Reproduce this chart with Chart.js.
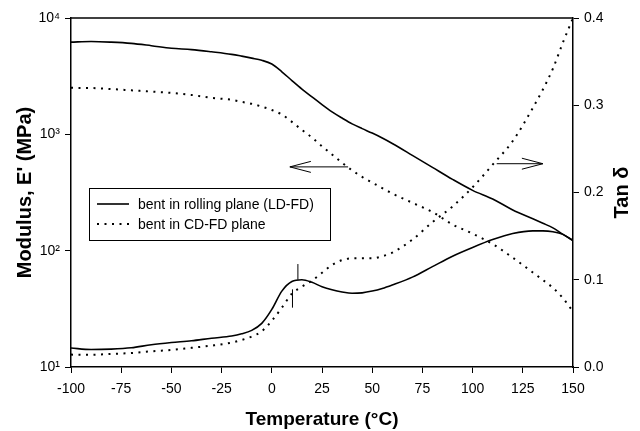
<!DOCTYPE html>
<html>
<head>
<meta charset="utf-8">
<script src="https://cdn.jsdelivr.net/npm/chart.js@4"></script>
<style>
  body { margin: 0; background: #fff; }
  #wrap { width: 640px; height: 431px; }
</style>
</head>
<body>
<div id="wrap"><canvas id="dmaChart" width="640" height="431"></canvas></div>
<script>
// temperatures (°C) shared by all four curves
const temps = [-100, -90, -80, -70, -60, -50, -40, -30, -20, -15, -10, -5, 0, 5, 10, 15, 20, 25, 30, 35,
               40, 45, 50, 55, 60, 70, 80, 90, 100, 110, 120, 130, 135, 140, 145, 150];

// storage modulus E' (MPa)
const modulusLD = [6200, 6280, 6200, 6050, 5780, 5500, 5350, 5120, 4870, 4700, 4520, 4330, 4020, 3450, 2900, 2450, 2100, 1800,
                   1560, 1380, 1230, 1120, 1025, 930, 835, 660, 520, 410, 330, 278, 224, 188, 172, 157, 138, 122];
const modulusCD = [2510, 2500, 2450, 2390, 2330, 2270, 2180, 2060, 1980, 1900, 1830, 1730, 1620, 1480, 1280, 1090, 940, 790,
                   670, 570, 490, 430, 385, 345, 310, 258, 215, 168, 140, 114, 87, 65, 56, 48, 39, 30];

// tan delta
const tanLD = [0.0218, 0.020, 0.0205, 0.022, 0.0255, 0.028, 0.030, 0.033, 0.0355, 0.038, 0.042, 0.050, 0.066, 0.087, 0.098, 0.100,
               0.097, 0.092, 0.0885, 0.086, 0.0845, 0.085, 0.087, 0.090, 0.094, 0.103, 0.115, 0.127, 0.137, 0.146, 0.153,
               0.156, 0.156, 0.155, 0.152, 0.145];
const tanCD = [0.0142, 0.014, 0.015, 0.016, 0.018, 0.0195, 0.022, 0.0245, 0.028, 0.031, 0.035, 0.041, 0.053, 0.068, 0.084, 0.092,
               0.099, 0.108, 0.117, 0.1225, 0.1245, 0.1245, 0.1245, 0.127, 0.131, 0.146, 0.166, 0.184, 0.206, 0.232, 0.259,
               0.297, 0.318, 0.342, 0.372, 0.400];

// glass transition marks on the tan delta curves
const tgTemps = [13, 10.3];
const tgLow = [0.100, 0.068];
const tgHigh = [0.118, 0.089];

// arrows pointing to the axis each set belongs to: [from T, to T, value]
const modulusArrow = [38, 9, 525];
const tanArrow = [112, 135, 0.233];

const seriesLabels = ['bent in rolling plane (LD-FD)', 'bent in CD-FD plane'];
const modulusTicks = [10, 100, 1000, 10000];
const dotted = [2, 5.5];

Chart.defaults.font.family = "'Liberation Sans', Arial, sans-serif";
Chart.defaults.color = '#000';

const pts = (ys) => temps.map((t, i) => ({ x: t, y: ys[i] }));

const datasets = [
    { data: pts(modulusLD), yAxisID: 'y', borderWidth: 1.6 },
    { data: pts(modulusCD), yAxisID: 'y', borderWidth: 2, borderDash: dotted },
    { data: pts(tanLD), yAxisID: 'y1', borderWidth: 1.6 },
    { data: pts(tanCD), yAxisID: 'y1', borderWidth: 2, borderDash: dotted },
];
tgTemps.forEach((t, i) => {
    datasets.push({ data: [{ x: t, y: tgLow[i] }, { x: t, y: tgHigh[i] }], yAxisID: 'y1', borderWidth: 1, cubicInterpolationMode: 'default', tension: 0 });
});
datasets.forEach(d => {
    d.borderColor = '#000';
    d.pointRadius = 0;
    d.fill = false;
    if (!d.cubicInterpolationMode) d.cubicInterpolationMode = 'monotone';
});

const sup = { 1: '\u00b9', 2: '\u00b2', 3: '\u00b3', 4: '\u2074' };

// frame, arrows, legend box and right-hand title
const extras = {
    id: 'extras',
    afterDatasetsDraw(chart) {
        const { ctx, chartArea: a, scales } = chart;
        ctx.save();
        ctx.strokeStyle = '#000';
        ctx.lineWidth = 1.5;
        ctx.beginPath();
        ctx.moveTo(a.left, a.top);
        ctx.lineTo(a.right, a.top);
        ctx.stroke();

        const arrow = (yScale, spec) => {
            const x0 = scales.x.getPixelForValue(spec[0]);
            const x1 = scales.x.getPixelForValue(spec[1]);
            const y = yScale.getPixelForValue(spec[2]);
            const dir = x1 > x0 ? -1 : 1;
            ctx.lineWidth = 1;
            ctx.beginPath();
            ctx.moveTo(x0, y);
            ctx.lineTo(x1, y);
            ctx.moveTo(x1 + dir * 21, y - 5.5);
            ctx.lineTo(x1, y);
            ctx.lineTo(x1 + dir * 21, y + 5.5);
            ctx.stroke();
        };
        arrow(scales.y, modulusArrow);
        arrow(scales.y1, tanArrow);

        // legend
        const lx = 89, ly = 188, lw = 241, lh = 52;
        ctx.lineWidth = 1;
        ctx.strokeRect(lx + 0.5, ly + 0.5, lw, lh);
        ctx.font = "14px 'Liberation Sans', Arial, sans-serif";
        ctx.fillStyle = '#000';
        ctx.textBaseline = 'middle';
        seriesLabels.forEach((label, i) => {
            const y = ly + 16 + i * 20;
            ctx.lineWidth = i === 0 ? 1.6 : 2;
            ctx.setLineDash(i === 0 ? [] : dotted);
            ctx.beginPath();
            ctx.moveTo(lx + 8, y);
            ctx.lineTo(lx + 40, y);
            ctx.stroke();
            ctx.setLineDash([]);
            ctx.fillText(label, lx + 49, y + 1);
        });

        // right axis title reads bottom to top
        ctx.font = "bold 20px 'Liberation Sans', Arial, sans-serif";
        ctx.textAlign = 'center';
        ctx.translate(622, (a.top + a.bottom) / 2);
        ctx.rotate(-Math.PI / 2);
        ctx.fillText('Tan \u03b4', 0, 0);
        ctx.restore();
    }
};

const axisGrid = { drawOnChartArea: false, drawTicks: true, tickLength: 6, color: '#000', lineWidth: 1 };
const axisBorder = { display: true, color: '#000', width: 1.5 };

new Chart(document.getElementById('dmaChart'), {
    type: 'line',
    data: { datasets },
    options: {
        responsive: false,
        animation: false,
        layout: { padding: { top: 18, left: 0, right: 0, bottom: 0 } },
        plugins: { legend: { display: false }, tooltip: { enabled: false } },
        scales: {
            x: {
                type: 'linear',
                min: -100,
                max: 150,
                grid: axisGrid,
                border: axisBorder,
                ticks: { stepSize: 25, font: { size: 14 }, padding: 8, maxRotation: 0 },
                title: { display: true, text: 'Temperature (\u00b0C)', font: { size: 19, weight: 'bold' }, padding: { top: 0, bottom: 0 } },
                afterFit: (s) => { s.height = 64; }
            },
            y: {
                type: 'logarithmic',
                position: 'left',
                min: 10,
                max: 10000,
                grid: axisGrid,
                border: axisBorder,
                afterBuildTicks: (s) => { s.ticks = modulusTicks.map(v => ({ value: v })); },
                ticks: { font: { size: 14 }, padding: 5, callback: (v) => '10' + sup[Math.round(Math.log10(v))] },
                title: { display: true, text: "Modulus, E' (MPa)", font: { size: 20, weight: 'bold' }, padding: { top: 13, bottom: 0 } },
                afterFit: (s) => { s.width = 71; }
            },
            y1: {
                type: 'linear',
                position: 'right',
                min: 0,
                max: 0.4,
                grid: axisGrid,
                border: axisBorder,
                ticks: { stepSize: 0.1, font: { size: 14 }, padding: 5, callback: (v) => v.toFixed(1) },
                afterFit: (s) => { s.width = 67; }
            }
        }
    },
    plugins: [extras]
});
</script>
</body>
</html>
